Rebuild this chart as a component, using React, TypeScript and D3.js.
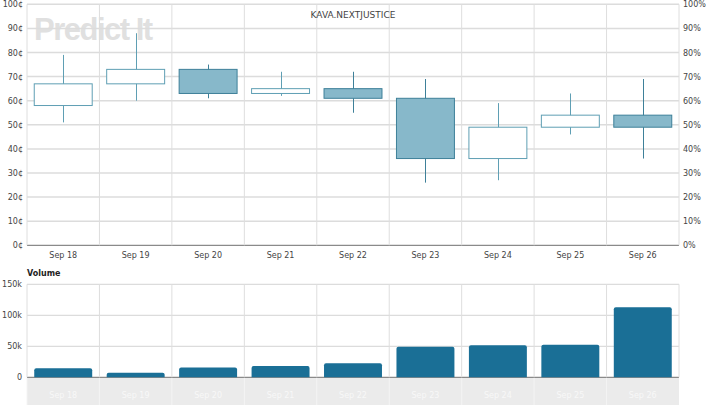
import React from "react";
import * as d3 from "d3";

const categories = ["Sep 18", "Sep 19", "Sep 20", "Sep 21", "Sep 22", "Sep 23", "Sep 24", "Sep 25", "Sep 26"];
const openValues = [58, 67, 73, 63, 65, 61, 36, 49, 54];
const highValues = [79, 88, 75, 72, 72, 69, 59, 63, 69];
const lowValues = [51, 60, 61, 62, 55, 26, 27, 46, 36];
const closeValues = [67, 73, 63, 65, 61, 36, 49, 54, 49];
const volumeValues = [14500, 7400, 16000, 18200, 22600, 49400, 51600, 52600, 112900];
const priceTicks = [0, 10, 20, 30, 40, 50, 60, 70, 80, 90, 100];
const volumeTicks = [0, 50000, 100000, 150000];

const W = 706, H = 410;
const L = 27, R = 679;
const font = "DejaVu Sans, Verdana, sans-serif";

export default function App() {
  const x = d3.scaleBand<string>().domain(categories).range([L, R]).paddingInner(0.2).paddingOuter(0.1);
  const xb = d3.scaleBand<string>().domain(categories).range([L, R]);
  const y = d3.scaleLinear().domain([0, 100]).range([245.3, 4.3]);
  const yv = d3.scaleLinear().domain([0, 150000]).range([377.3, 284.3]);
  const bw = x.bandwidth();
  const fmtV = (v: number) => (v === 0 ? "0" : `${v / 1000}k`);

  return (
    <svg width={W} height={H} style={{ position: "absolute", left: 0, top: 0, background: "#fff" }} fontFamily={font}>
      {/* watermark */}
      <text x={34} y={40} fontSize={31} fontWeight="bold" fill="#e0e0e0" fontFamily="Liberation Sans, Arial, sans-serif" letterSpacing={-1.5}>Predict It</text>

      {/* price grid */}
      {priceTicks.map((t) => (
        <line key={"g" + t} x1={L} x2={R} y1={y(t)} y2={y(t)} stroke={t === 0 ? "#8a8a8a" : "#dcdcdc"} strokeWidth={t === 0 ? 1.2 : 1.5} />
      ))}
      {categories.map((c) => (
        <line key={"v" + c} x1={xb(c)!} x2={xb(c)!} y1={y(100)} y2={y(0)} stroke="#dedede" strokeWidth={1} />
      ))}
      <line x1={R} x2={R} y1={y(100)} y2={y(0)} stroke="#dedede" />

      {/* price axis labels */}
      {priceTicks.map((t) => (
        <text key={"l" + t} x={23} y={y(t) + 3} textAnchor="end" fontSize={8} fill="#444">{t}¢</text>
      ))}
      {priceTicks.map((t) => (
        <text key={"r" + t} x={683} y={y(t) + 3} textAnchor="start" fontSize={8} fill="#444">{t}%</text>
      ))}
      {categories.map((c) => (
        <text key={"xl" + c} x={x(c)! + bw / 2} y={258} textAnchor="middle" fontSize={8} fill="#444">{c}</text>
      ))}

      <text x={353} y={18} textAnchor="middle" fontSize={9} fill="#444">KAVA.NEXTJUSTICE</text>

      {/* candles */}
      {categories.map((c, i) => {
        const o = openValues[i], cl = closeValues[i];
        const up = cl >= o;
        const cx = Math.round(x(c)! + bw / 2) + 0.5;
        const top = y(Math.max(o, cl)), bot = y(Math.min(o, cl));
        const stroke = up ? "#5f9fb4" : "#3e8099";
        return (
          <g key={"c" + c}>
            <line x1={cx} x2={cx} y1={y(highValues[i])} y2={y(lowValues[i])} stroke={stroke} strokeWidth={1} />
            <rect x={x(c)!} y={top} width={bw} height={Math.max(1, bot - top)} fill={up ? "#ffffff" : "#87b8ca"} stroke={stroke} strokeWidth={1} />
          </g>
        );
      })}

      {/* volume panel */}
      <text x={L} y={276} fontSize={8} fontWeight="bold" fill="#222">Volume</text>
      {volumeTicks.map((t) => (
        <line key={"vg" + t} x1={L} x2={R} y1={yv(t)} y2={yv(t)} stroke={t === 0 ? "#8a8a8a" : "#dcdcdc"} strokeWidth={1.2} />
      ))}
      {categories.map((c) => (
        <line key={"vv" + c} x1={xb(c)!} x2={xb(c)!} y1={yv(150000)} y2={yv(0)} stroke="#dedede" />
      ))}
      <line x1={R} x2={R} y1={yv(150000)} y2={yv(0)} stroke="#dedede" />
      {volumeTicks.map((t) => (
        <text key={"vl" + t} x={22} y={yv(t) + 3} textAnchor="end" fontSize={8} fill="#444">{fmtV(t)}</text>
      ))}
      {categories.map((c, i) => {
        const top = yv(volumeValues[i]);
        const h = yv(0) - top;
        const bx = x(c)!;
        const r = 2;
        const d = `M${bx},${yv(0)} L${bx},${top + r} Q${bx},${top} ${bx + r},${top} L${bx + bw - r},${top} Q${bx + bw},${top} ${bx + bw},${top + r} L${bx + bw},${yv(0)} Z`;
        return <path key={"b" + c} d={h > 0 ? d : ""} fill="#1a6f96" />;
      })}

      {/* navigator band */}
      <rect x={L} y={378} width={R - L} height={27} fill="#ebebeb" />
      {categories.map((c) => (
        <line key={"nv" + c} x1={xb(c)!} x2={xb(c)!} y1={378} y2={405} stroke="#f4f4f4" />
      ))}
      {categories.map((c) => (
        <text key={"nl" + c} x={x(c)! + bw / 2} y={398} textAnchor="middle" fontSize={8} fill="#f8f8f8">{c}</text>
      ))}
    </svg>
  );
}
